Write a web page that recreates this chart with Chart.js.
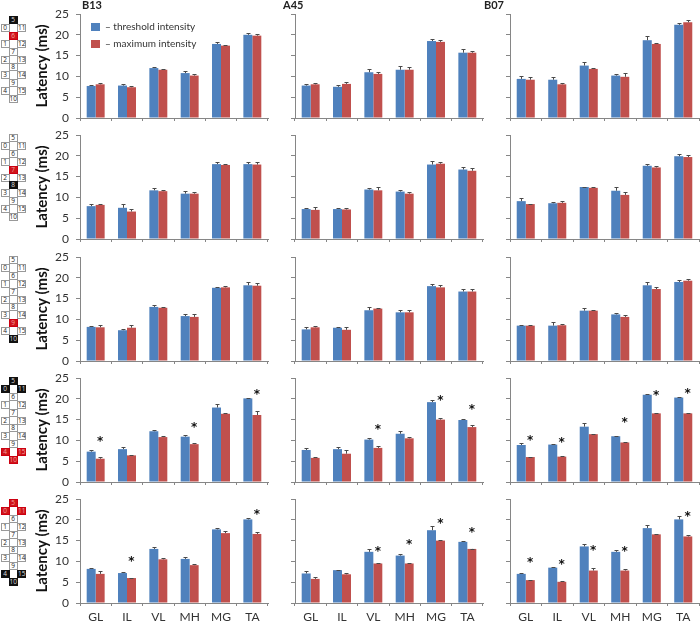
<!DOCTYPE html>
<html><head><meta charset="utf-8">
<script src="https://cdn.jsdelivr.net/npm/chart.js"></script>
<style>
html,body{margin:0;padding:0;background:#fff;width:700px;height:621px;overflow:hidden}
canvas{position:absolute}
.head{position:absolute;font:bold 11px Lato,sans-serif;color:#222;line-height:12px}
.cell{position:absolute;width:7px;height:6px;border:1px solid #999;background:#fff;color:#222;font:6.5px/6px "Open Sans",sans-serif;text-align:center;box-sizing:content-box;white-space:nowrap}
.cell.black{background:#111;color:#ddd;border-color:#111}
.cell.red{background:#d0151a;color:#f0a0a0;border-color:#c01}
</style></head><body>
<script>
const categories = ['GL','IL','VL','MH','MG','TA'];
const yTicks = [0,5,10,15,20,25];
const thresholdLabel = '– threshold intensity';
const maximumLabel = '– maximum intensity';
const panelNames = ['B13','A45','B07'];

const thrB13 = [[7.7,7.8,12,10.8,17.8,20],[7.9,7.5,11.7,10.9,18,18],[8.2,7.4,13,10.8,17.6,18.2],[7.3,7.9,12.2,10.9,17.9,20.1],[8.2,7.2,13,10.6,17.7,20.1]];
const maxB13 = [[8.1,7.4,11.6,10.2,17.4,19.8],[8.2,6.6,11.5,10.9,17.8,17.9],[8.1,8,12.8,10.6,17.7,18.1],[5.6,6.4,10.8,9.1,16.4,16.1],[7,6,10.5,9.1,16.8,16.6]];
const errThrB13 = [[.3,.3,.3,.6,.4,.5],[.4,1,.6,.6,.4,.6],[.3,.4,.5,.6,.2,.8],[.5,.6,.4,.5,.9,.2],[.3,.3,.5,.4,.3,.4]];
const errMaxB13 = [[.4,.4,.2,.4,.2,.4],[.3,.5,.3,.5,.3,.7],[.6,.7,.2,.7,.4,.7],[.3,.2,.3,.2,.2,1],[.6,.1,.4,.2,.4,.4]];

const thrA45 = [[7.8,7.5,11,11.6,18.5,15.7],[7.2,7.2,11.9,11.4,17.9,16.7],[7.6,8,12.2,11.7,18,16.7],[7.7,7.9,10.2,11.6,19.2,14.9],[7.1,7.9,12.3,11.4,17.5,14.7]];
const maxA45 = [[8.1,8.2,10.6,11.6,18.3,15.7],[7,7.1,11.7,10.9,18.1,16.4],[8.1,7.5,12.6,11.7,17.7,16.7],[5.8,6.8,8.2,10.5,15,13.2],[5.8,6.9,9.5,9.5,15,13]];
const errThrA45 = [[.3,.4,.8,.9,.5,.8],[.2,.2,.3,.3,.8,.5],[.5,.2,.7,.5,.6,.5],[.4,.4,.3,.6,.6,.2],[.5,.1,.6,.3,.9,.3]];
const errMaxA45 = [[.2,.5,.5,.6,.4,.4],[.6,.3,.7,.4,.4,.6],[.4,.6,.2,.5,.5,.7],[.2,.8,.4,.3,.4,.4],[.4,.2,.1,.1,.05,.1]];

const thrB07 = [[9.4,9.2,12.6,10.2,18.7,22.4],[9.1,8.6,12.5,11.6,17.6,19.9],[8.5,8.5,12.1,11.2,18.2,19],[8.9,9,13.3,11,21,20.3],[7,8.5,13.6,12.3,18,20.1]];
const maxB07 = [[9.2,8.1,11.8,9.9,17.8,23],[8.4,8.7,12.3,10.6,17.2,19.7],[8.5,8.6,12.1,10.6,17.3,19.3],[6,6.1,11.5,9.5,16.5,16.5],[5.5,5.1,7.8,7.8,16.5,16]];
const errThrB07 = [[.6,.7,.8,.4,1,.4],[.8,.2,.1,.8,.5,.6],[.2,.9,.6,.4,.9,.4],[.4,.1,.8,.1,.05,.2],[.1,.1,.5,.4,.8,.7]];
const errMaxB07 = [[.7,.3,.2,.9,.2,.5],[.1,.4,.2,.6,.3,.5],[.1,.4,.1,.5,.4,.5],[.1,.1,.1,.05,.1,.1],[.05,.1,.6,.3,.05,.4]];

const n = null;
const starB13 = [[n,n,n,n,n,n],[n,n,n,n,n,n],[n,n,n,n,n,n],[9.9,n,n,13.2,n,21.1],[n,10.2,n,n,n,21.4]];
const starA45 = [[n,n,n,n,n,n],[n,n,n,n,n,n],[n,n,n,n,n,n],[n,n,12.8,n,19.8,17.5],[n,n,12.5,14.1,19.3,17]];
const starB07 = [[n,n,n,n,n,n],[n,n,n,n,n,n],[n,n,n,n,n,n],[10.1,9.7,n,14.4,20.9,21.4],[10,9.4,12.8,12.6,n,20.9]];

const electrodeTiers = [[5],[0,11],[6],[1,12],[7],[2,13],[8],[3,14],[9],[4,15],[10]];
const blackCells = [[5],[8],[10],[5,0,11],[4,15,10]];
const redCells = [[6],[7],[9],[4,15,10],[5,0,11]];
const diagramTops = [16,134,256,377,499];

const blue = '#4F81BD', red = '#C0504D', axisGrey = '#868686';
const columnAxisLeft = [80,295,510];
const columnAxisWidth = [188,188,189];
const rowTop = [14,135,257,378,499];
const plotHeight = 104;
const topRoom = 8;

const whiskers = {
  id:'whiskers',
  afterUpdate(chart){
    if(chart.legend && chart.options.plugins.legend.display){
      chart.legend.left += 4; chart.legend.right += 4;
      chart.legend.top += 9; chart.legend.bottom += 9;
    }
  },
  afterDatasetsDraw(chart,args,opts){
    const c = chart.ctx, y = chart.scales.y;
    c.save();
    c.strokeStyle = '#4a4a4a'; c.lineWidth = 1;
    chart.data.datasets.forEach((ds,i)=>{
      chart.getDatasetMeta(i).data.forEach((bar,j)=>{
        const top = Math.round(y.getPixelForValue(ds.data[j]+opts.err[i][j]))+.5;
        const base = y.getPixelForValue(ds.data[j]);
        const x = Math.round(bar.x)+.5;
        c.beginPath();
        c.moveTo(x,base); c.lineTo(x,top);
        c.moveTo(x-2,top); c.lineTo(x+2,top);
        c.stroke();
      });
    });
    c.fillStyle = '#111';
    c.font = 'bold 12px "DejaVu Sans"';
    c.textAlign = 'center'; c.textBaseline = 'middle';
    const m = chart.getDatasetMeta(1);
    opts.stars.forEach((v,j)=>{
      if(v!==null) c.fillText('*',m.data[j].x,y.getPixelForValue(v)+1);
    });
    c.restore();
  }
};

function makePanel(col,row,thr,max,errT,errM,stars){
  const isFirst = col===0, isBottom = row===4;
  const leftW = isFirst ? 52 : 8;
  const xH = isBottom ? 20 : 8;
  const cv = document.createElement('canvas');
  const w = leftW + columnAxisWidth[col] + 1, h = topRoom + plotHeight + xH;
  cv.width = w; cv.height = h;
  cv.style.left = (columnAxisLeft[col]-leftW)+'px';
  cv.style.top = (rowTop[row]-topRoom)+'px';
  document.body.appendChild(cv);
  const showLegend = col===0 && row===0;
  new Chart(cv,{
    type:'bar',
    data:{labels:categories,datasets:[
      {label:thresholdLabel,data:thr,backgroundColor:blue,borderWidth:0},
      {label:maximumLabel,data:max,backgroundColor:red,borderWidth:0}
    ]},
    plugins:[whiskers],
    options:{
      responsive:false,animation:false,
      layout:{padding:{top:topRoom,right:1,left:0,bottom:0}},
      datasets:{bar:{categoryPercentage:.573,barPercentage:1}},
      plugins:{
        tooltip:{enabled:false},title:{display:false},
        legend:{display:showLegend,position:'chartArea',align:'start',
          labels:{boxWidth:9,boxHeight:8,padding:7,color:'#333',font:{family:'Lato',size:10}}},
        whiskers:{err:[errT,errM],stars}
      },
      scales:{
        x:{
          grid:{display:true,drawOnChartArea:false,drawTicks:true,tickLength:3,color:axisGrey,offset:true},
          border:{color:axisGrey,width:1},
          ticks:{display:isBottom,color:'#333',padding:4,maxRotation:0,font:{family:'Lato',size:12}},
          afterFit(s){s.height=xH;s.paddingLeft=0;s.paddingRight=0;}
        },
        y:{
          min:0,max:25,
          afterBuildTicks(s){s.ticks=yTicks.map(v=>({value:v}));},
          grid:{display:true,drawOnChartArea:false,drawTicks:true,tickLength:4,color:axisGrey},
          border:{color:axisGrey,width:1},
          ticks:{display:isFirst,color:'#333',padding:7,font:{family:'Lato',size:12}},
          title:{display:isFirst,text:'Latency (ms)',color:'#111',padding:{top:5,bottom:0},
            font:{family:'Lato',size:15,weight:'bold'}},
          afterFit(s){s.width=leftW;s.paddingTop=0;s.paddingBottom=0;}
        }
      }
    }
  });
}

function drawDiagram(row){
  electrodeTiers.forEach((tier,t)=>{
    tier.forEach((id,k)=>{
      const d = document.createElement('div');
      d.className = 'cell'+(blackCells[row].includes(id)?' black':redCells[row].includes(id)?' red':'');
      d.textContent = id;
      const colX = tier.length===1 ? 8.5 : (k===0 ? 0.5 : 17);
      d.style.left = colX+'px';
      d.style.top = (diagramTops[row]+t*7.9)+'px';
      document.body.appendChild(d);
    });
  });
}

const thrAll=[thrB13,thrA45,thrB07], maxAll=[maxB13,maxA45,maxB07],
      etAll=[errThrB13,errThrA45,errThrB07], emAll=[errMaxB13,errMaxA45,errMaxB07],
      stAll=[starB13,starA45,starB07];
for(let col=0;col<3;col++){
  for(let row=0;row<5;row++){
    makePanel(col,row,thrAll[col][row],maxAll[col][row],etAll[col][row],emAll[col][row],stAll[col][row]);
  }
}
for(let row=0;row<5;row++) drawDiagram(row);
[82,283,484].forEach((x,i)=>{
  const d=document.createElement('div');d.className='head';d.textContent=panelNames[i];
  d.style.left=x+'px';d.style.top='-1px';document.body.appendChild(d);
});
</script>
</body></html>
